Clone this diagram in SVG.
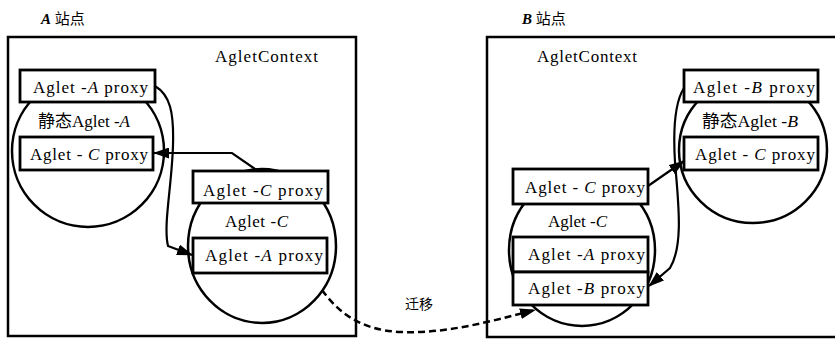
<svg xmlns="http://www.w3.org/2000/svg" width="835" height="340" viewBox="0 0 835 340">
<defs>
<style>
.frame{fill:#fff;stroke:#000;stroke-width:2.5}
.blob{fill:#fff;stroke:#000;stroke-width:2.5}
.box{fill:#fff;stroke:#000;stroke-width:2.8}
.t{font-family:"Liberation Serif","Noto Sans CJK SC",serif;font-size:17px;fill:#000}
.ttl{font-family:"Liberation Serif","Noto Sans CJK SC",serif;font-size:15px;fill:#000}
.cn{font-family:"Noto Sans CJK SC",serif;font-size:14px;fill:#000}
.link{fill:none;stroke:#000;stroke-width:2.2}
.mig{fill:none;stroke:#000;stroke-width:2.5;stroke-dasharray:7,4}
</style>
<marker id="ah" markerWidth="16" markerHeight="11" refX="15" refY="5.5" orient="auto" markerUnits="userSpaceOnUse">
<path d="M0,0 L16,5.5 L0,11 z" fill="#000"/>
</marker>
</defs>
<rect width="835" height="340" fill="#fff"/>

<g id="siteA">
<text class="ttl" x="41" y="24"><tspan font-weight="bold" font-style="italic">A</tspan> 站点</text>
<rect class="frame" x="8" y="37" width="348" height="299"/>
<text class="t" x="215" y="62" textLength="103" lengthAdjust="spacing">AgletContext</text>
</g>

<g id="siteB">
<text class="ttl" x="522" y="24"><tspan font-weight="bold" font-style="italic">B</tspan> 站点</text>
<rect class="frame" x="487" y="37" width="360" height="300"/>
<text class="t" x="537" y="62" textLength="100" lengthAdjust="spacing">AgletContext</text>
</g>

<g id="staticA">
<ellipse class="blob" cx="88" cy="151" rx="76" ry="76"/>
<text class="t" x="38" y="127" textLength="92" lengthAdjust="spacingAndGlyphs">静态Aglet -<tspan font-style="italic">A</tspan></text>
</g>
<g id="staticA-proxyA">
<rect class="box" x="20" y="70" width="135" height="32"/>
<text class="t" x="33" y="93" textLength="115" lengthAdjust="spacing">Aglet -<tspan font-style="italic">A</tspan> proxy</text>
</g>
<g id="staticA-proxyC">
<rect class="box" x="20" y="137" width="133" height="33"/>
<text class="t" x="30" y="160" textLength="118" lengthAdjust="spacing">Aglet - <tspan font-style="italic">C</tspan> proxy</text>
</g>

<g id="agletC-A">
<ellipse class="blob" cx="262" cy="246" rx="74" ry="77"/>
<text class="t" x="225" y="227" textLength="63" lengthAdjust="spacing">Aglet -<tspan font-style="italic">C</tspan></text>
</g>
<g id="agletC-A-proxyC">
<rect class="box" x="193" y="171" width="135" height="32"/>
<text class="t" x="203" y="196" textLength="120" lengthAdjust="spacing">Aglet -<tspan font-style="italic">C</tspan>  proxy</text>
</g>
<g id="agletC-A-proxyA">
<rect class="box" x="193" y="238" width="134" height="35"/>
<text class="t" x="205" y="261" textLength="118" lengthAdjust="spacing">Aglet -<tspan font-style="italic">A</tspan>  proxy</text>
</g>

<g id="staticB">
<ellipse class="blob" cx="753" cy="150" rx="74" ry="73"/>
<text class="t" x="702" y="127" textLength="96" lengthAdjust="spacingAndGlyphs">静态Aglet -<tspan font-style="italic">B</tspan></text>
</g>
<g id="staticB-proxyB">
<rect class="box" x="684" y="70" width="134" height="32"/>
<text class="t" x="693" y="93" textLength="122" lengthAdjust="spacing">Aglet -<tspan font-style="italic">B</tspan>   proxy</text>
</g>
<g id="staticB-proxyC">
<rect class="box" x="684" y="137" width="134" height="33"/>
<text class="t" x="695" y="160" textLength="120" lengthAdjust="spacing">Aglet - <tspan font-style="italic">C</tspan> proxy</text>
</g>

<g id="agletC-B">
<ellipse class="blob" cx="582" cy="250" rx="73" ry="76"/>
<text class="t" x="548" y="227" textLength="59" lengthAdjust="spacing">Aglet -<tspan font-style="italic">C</tspan></text>
</g>
<g id="agletC-B-proxyC">
<rect class="box" x="513" y="169" width="135" height="35"/>
<text class="t" x="525" y="193" textLength="120" lengthAdjust="spacing">Aglet - <tspan font-style="italic">C</tspan> proxy</text>
</g>
<g id="agletC-B-proxyA">
<rect class="box" x="513" y="237" width="135" height="35"/>
<text class="t" x="528" y="260" textLength="117" lengthAdjust="spacing">Aglet -<tspan font-style="italic">A</tspan>  proxy</text>
</g>
<g id="agletC-B-proxyB">
<rect class="box" x="513" y="272" width="135" height="33"/>
<text class="t" x="528" y="294" textLength="117" lengthAdjust="spacing">Aglet -<tspan font-style="italic">B</tspan>  proxy</text>
</g>

<g id="connectors">
<path class="link" d="M155,86 C170,95 174,112 173,145 C172,185 163,225 168,246 L192,255" marker-end="url(#ah)"/>
<path class="link" d="M258,171 L232,153 L154,153" marker-end="url(#ah)"/>
<path class="link" d="M648,186 L684,161" marker-end="url(#ah)"/>
<path class="link" d="M684,88 C675,102 673,130 675,162 C678,200 684,245 670,268 L649,286" marker-end="url(#ah)"/>
<path class="mig" d="M322,290 C338,312 360,330 400,332 C445,334 488,322 535,310" marker-end="url(#ah)"/>
<text class="cn" x="405" y="309">迁移</text>
</g>
</svg>
